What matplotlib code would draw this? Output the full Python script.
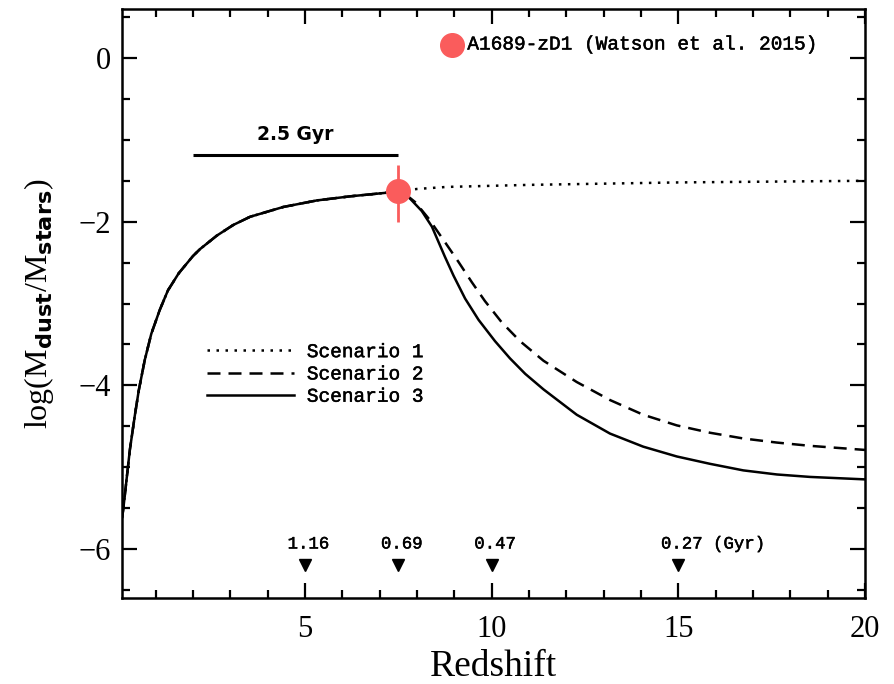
import matplotlib
matplotlib.use("Agg")
import matplotlib.pyplot as plt
import matplotlib.patheffects as pe

# ---- data ----
z_shared = [0.10, 0.13, 0.22, 0.31, 0.44, 0.55, 0.71, 0.885, 1.11, 1.33, 1.62, 2.0,
            2.19, 2.64, 3.08, 3.53, 4.42, 5.32, 6.21, 7.10, 7.50]
y_shared = [-5.62, -5.53, -5.16, -4.79, -4.38, -4.06, -3.69, -3.37, -3.08, -2.84, -2.63, -2.42,
            -2.335, -2.17, -2.04, -1.94, -1.82, -1.74, -1.69, -1.65, -1.63]

z_s1 = [8.0, 8.8, 11.0, 15.0, 20.0]
y_s1 = [-1.60, -1.575, -1.55, -1.52, -1.50]

z_s2 = [7.65, 7.95, 8.31, 8.75, 9.11, 9.47, 9.82, 10.27, 10.76, 11.39, 12.28, 13.17,
        14.06, 14.96, 15.85, 16.74, 17.64, 18.53, 20.0]
y_s2 = [-1.65, -1.76, -1.96, -2.25, -2.49, -2.74, -2.97, -3.23, -3.46, -3.70, -3.96, -4.18,
        -4.36, -4.49, -4.58, -4.65, -4.70, -4.74, -4.79]

z_s3 = [7.65, 7.82, 8.13, 8.40, 8.57, 8.75, 8.98, 9.29, 9.65, 10.09, 10.49, 10.90, 11.39,
        12.28, 13.17, 14.06, 14.96, 15.85, 16.74, 17.64, 18.53, 20.0]
y_s3 = [-1.66, -1.72, -1.87, -2.06, -2.24, -2.43, -2.66, -2.94, -3.20, -3.46, -3.67, -3.86,
        -4.05, -4.36, -4.59, -4.75, -4.87, -4.96, -5.04, -5.09, -5.12, -5.15]

scenario_labels = ["Scenario 1", "Scenario 2", "Scenario 3"]

obs_z = 7.5
obs_y = -1.62
obs_err_lo = 0.38
obs_err_hi = 0.31
obs_label = "A1689-zD1 (Watson et al. 2015)"
obs_key_z = 8.94
obs_key_y = 0.16

age_z = [5.0, 7.5, 10.0, 15.0]
age_labels = ["1.16", "0.69", "0.47", "0.27 (Gyr)"]
age_marker_y = -6.2
age_label_y = -5.94

bar_z = [2.0, 7.5]
bar_y = -1.19
bar_label = "2.5 Gyr"
bar_label_pos = (4.75, -0.93)

xticks = [5, 10, 15, 20]
yticks = [0, -2, -4, -6]

RED = "#FA5C5C"
SERIF = "Liberation Serif"
MONO = "Liberation Mono"
thick = [pe.withStroke(linewidth=0.35, foreground="black")]

plt.rcParams["mathtext.fontset"] = "dejavusans"

fig = plt.figure(figsize=(8.95, 6.84), dpi=100)
ax = fig.add_axes([122 / 895, 1 - 598 / 684, (865 - 122) / 895, (598 - 9) / 684])

lw = 1.8
z1 = z_shared + z_s1
y1 = y_shared + y_s1
z2 = z_shared + z_s2
y2 = y_shared + y_s2
z3 = z_shared + z_s3
y3 = y_shared + y_s3
l1, = ax.plot(z1, y1, color="black", lw=lw, linestyle=(0, (1, 2.6)))
l2, = ax.plot(z2, y2, color="black", lw=lw, linestyle=(0, (5.2, 3.2)))
l3, = ax.plot(z3, y3, color="black", lw=lw, linestyle="-")

# observation with error bar
ax.errorbar([obs_z], [obs_y], yerr=[[obs_err_lo], [obs_err_hi]], fmt="o", color=RED,
            ms=17, ecolor=RED, elinewidth=2.0, capsize=0, zorder=5)
ax.plot([obs_key_z], [obs_key_y], "o", color=RED, ms=17, zorder=5)
ax.annotate(obs_label, xy=(obs_key_z, obs_key_y), xytext=(11, 0), textcoords="offset points",
            va="center", ha="left", fontsize=14, family=MONO, path_effects=thick)

# 2.5 Gyr bar
ax.plot(bar_z, [bar_y, bar_y], color="black", lw=2.2, solid_capstyle="butt")
ax.text(bar_label_pos[0], bar_label_pos[1], bar_label, ha="center", va="center",
        fontsize=13.5, fontweight="bold", family="DejaVu Sans")

# age markers
ax.plot(age_z, [age_marker_y] * len(age_z), "v", color="black", ms=9)
for zz, lab in zip(age_z, age_labels):
    ax.annotate(lab, xy=(zz, age_label_y), xytext=(-12.5, 0), textcoords="offset points",
                ha="left", va="center", fontsize=12.5, family=MONO, path_effects=thick)

# legend
leg = ax.legend([l1, l2, l3], scenario_labels, loc="upper left",
                bbox_to_anchor=(0.114, 0.432), frameon=False, borderpad=0, borderaxespad=0,
                handlelength=4.5, handletextpad=0.65, labelspacing=0.24,
                prop={"family": MONO, "size": 14})
for t in leg.get_texts():
    t.set_path_effects(thick)

ax.set_xlim(0.1, 20)
ax.set_ylim(-6.6, 0.6)
ax.set_xticks(xticks)
ax.set_yticks(yticks)
ax.set_xticks([i for i in range(1, 21) if i not in xticks], minor=True)
ax.set_yticks([v / 2 for v in range(-13, 2) if v % 4 != 0], minor=True)
ax.set_xticklabels([str(t) for t in xticks], family=SERIF, fontsize=22)
ax.set_yticklabels(["\u2212" + str(-t) if t < 0 else str(t) for t in yticks],
                   family=SERIF, fontsize=22)

ax.tick_params(which="both", direction="in", top=True, right=True, width=1.6)
ax.tick_params(which="major", length=10.5)
ax.tick_params(which="minor", length=5.5)
ax.tick_params(axis="x", which="major", pad=12)
ax.tick_params(axis="y", which="major", pad=8)
for s in ax.spines.values():
    s.set_linewidth(1.8)

ax.set_xlabel("Redshift", family=SERIF, fontsize=27, labelpad=4)
ax.set_ylabel(r"log(M$_{\mathbf{dust}}$/M$_{\mathbf{stars}}$)", family=SERIF, fontsize=23,
              labelpad=16)

fig.savefig("out.png", dpi=100)
